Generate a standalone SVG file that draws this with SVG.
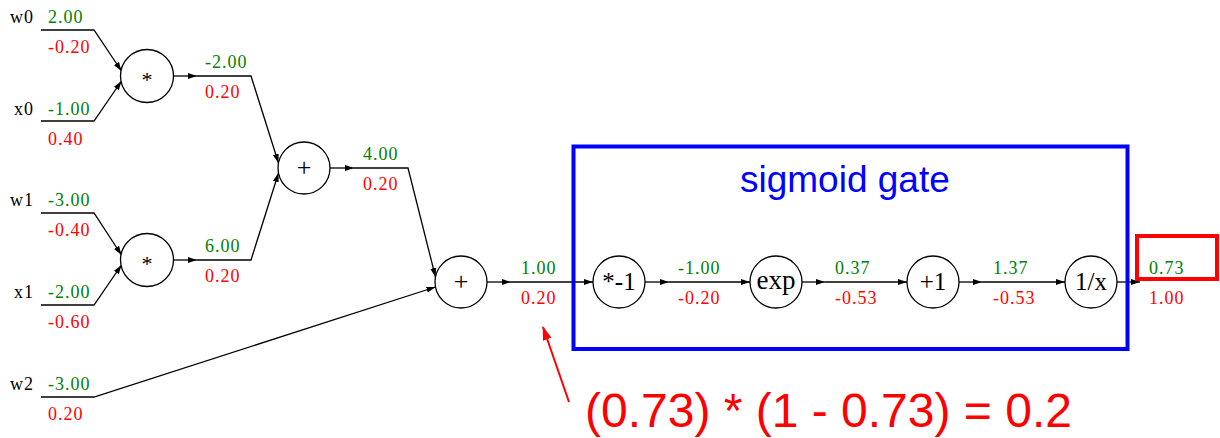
<svg xmlns="http://www.w3.org/2000/svg" width="1220" height="438" viewBox="0 0 1220 438">
<defs>
<marker id="ah" markerWidth="9" markerHeight="7" refX="9" refY="3.5" orient="auto" markerUnits="userSpaceOnUse"><path d="M0,0.5 L9,3.5 L0,6.5 z" fill="#000"/></marker>
<marker id="rah" markerWidth="14" markerHeight="10" refX="13" refY="5" orient="auto" markerUnits="userSpaceOnUse"><path d="M0,0.5 L14,5 L0,9.5 z" fill="#ff0000"/></marker>
</defs>
<style>
.e{fill:none;stroke:#000;stroke-width:1.3;marker-end:url(#ah)}
.n circle{fill:#fff;stroke:#000;stroke-width:1.3}
.op{font-family:"Liberation Serif",serif;font-size:25px;text-anchor:middle;fill:#000}
.v{font-family:"Liberation Serif",serif;font-size:18px;letter-spacing:1px}
.g{fill:#008000}
.r{fill:#ff0000}
.k{fill:#000}
</style>
<rect width="1220" height="438" fill="#fff"/>

<g id="connectors">
<path class="e" d="M41,30 H94 L121.5,71"/>
<path class="e" d="M41,121 H94 L121.5,81"/>
<path class="e" d="M41,213 H94 L121.5,255"/>
<path class="e" d="M41,305 H94 L121.5,265"/>
<path class="e" d="M41,397 H94 L435.5,287"/>
<path class="e" d="M173,76 H197"/>
<path class="e" d="M197,76 H251 L278.5,163"/>
<path class="e" d="M173,260 H197"/>
<path class="e" d="M197,260 H251 L278.5,173"/>
<path class="e" d="M330,168 H354"/>
<path class="e" d="M354,168 H408 L435.5,277"/>
<path class="e" d="M487,282 H511"/>
<path class="e" d="M511,282 H593"/>
<path class="e" d="M645,282 H669"/>
<path class="e" d="M669,282 H750"/>
<path class="e" d="M802,282 H825"/>
<path class="e" d="M825,282 H907"/>
<path class="e" d="M959,282 H982"/>
<path class="e" d="M982,282 H1065"/>
<path class="e" d="M1117,282 H1140"/>
</g>

<g id="in-w0"><text class="v k" x="10" y="23">w0</text><text class="v g" x="48" y="23">2.00</text><text class="v r" x="48" y="53">-0.20</text></g>
<g id="in-x0"><text class="v k" x="14" y="115">x0</text><text class="v g" x="48" y="115">-1.00</text><text class="v r" x="48" y="145">0.40</text></g>
<g id="in-w1"><text class="v k" x="10" y="206">w1</text><text class="v g" x="48" y="206">-3.00</text><text class="v r" x="48" y="236">-0.40</text></g>
<g id="in-x1"><text class="v k" x="14" y="298">x1</text><text class="v g" x="48" y="298">-2.00</text><text class="v r" x="48" y="328">-0.60</text></g>
<g id="in-w2"><text class="v k" x="10" y="390">w2</text><text class="v g" x="48" y="390">-3.00</text><text class="v r" x="48" y="420">0.20</text></g>

<g id="edge-values">
<text class="v g" x="205" y="68">-2.00</text><text class="v r" x="205" y="98">0.20</text>
<text class="v g" x="205" y="252">6.00</text><text class="v r" x="205" y="282">0.20</text>
<text class="v g" x="363" y="160">4.00</text><text class="v r" x="363" y="190">0.20</text>
<text class="v g" x="521" y="274">1.00</text><text class="v r" x="521" y="304">0.20</text>
<text class="v g" x="678" y="274">-1.00</text><text class="v r" x="678" y="304">-0.20</text>
<text class="v g" x="835" y="274">0.37</text><text class="v r" x="835" y="304">-0.53</text>
<text class="v g" x="993" y="274">1.37</text><text class="v r" x="993" y="304">-0.53</text>
<text class="v g" x="1149" y="274">0.73</text><text class="v r" x="1149" y="304">1.00</text>
</g>

<g id="mul0" class="n"><circle cx="147" cy="76" r="26.5"/><text class="op" x="147" y="87" style="font-size:22px">*</text></g>
<g id="mul1" class="n"><circle cx="147" cy="260" r="26.5"/><text class="op" x="147" y="271" style="font-size:22px">*</text></g>
<g id="add0" class="n"><circle cx="304" cy="168" r="26"/><text class="op" x="304" y="176" style="font-size:26px">+</text></g>
<g id="add1" class="n"><circle cx="461" cy="282" r="26"/><text class="op" x="461" y="290" style="font-size:26px">+</text></g>
<g id="neg" class="n"><circle cx="619" cy="282" r="26"/><text class="op" x="619" y="290">*-1</text></g>
<g id="exp" class="n"><circle cx="776" cy="282" r="26"/><text class="op" x="776" y="289" style="font-size:27px">exp</text></g>
<g id="plus1" class="n"><circle cx="933" cy="282" r="26"/><text class="op" x="933" y="290">+1</text></g>
<g id="inv" class="n"><circle cx="1091" cy="282" r="26"/><text class="op" x="1091" y="290">1/x</text></g>

<g id="sigmoid-gate">
<rect x="573.5" y="146.5" width="554" height="202.5" fill="none" stroke="#0000ff" stroke-width="4"/>
<text x="740" y="192" font-family="Liberation Sans, Arial, sans-serif" font-size="37" fill="#0000ff">sigmoid gate</text>
</g>

<g id="output-box"><rect x="1137" y="236" width="80" height="43" fill="none" stroke="#ff0000" stroke-width="4"/></g>

<g id="annotation">
<line x1="569" y1="402" x2="543" y2="327" stroke="#ff0000" stroke-width="2" marker-end="url(#rah)"/>
<text x="585" y="427" font-family="Liberation Sans, Arial, sans-serif" font-size="48" fill="#ff0000">(0.73) * (1 - 0.73) = 0.2</text>
</g>
</svg>
